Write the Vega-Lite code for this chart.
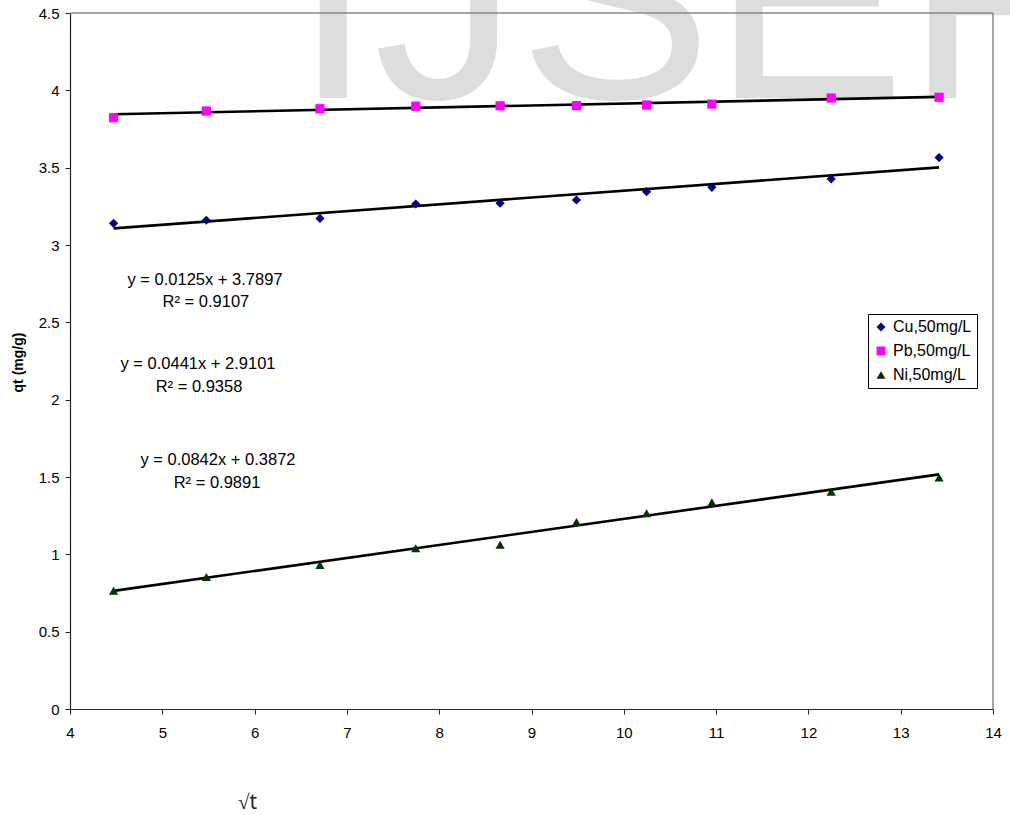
{
  "$schema": "https://vega.github.io/schema/vega-lite/v6.json",
  "autosize": {"type": "none"},
  "padding": {"left": 70, "top": 13, "right": 17, "bottom": 106},
  "width": 923,
  "height": 696,
  "background": "white",
  "config": {
    "view": {"stroke": null},
    "font": "Liberation Sans",
    "axis": {
      "grid": false,
      "domainColor": "#222",
      "domainWidth": 1.2,
      "tickColor": "#222",
      "tickSize": 5,
      "labelColor": "#000",
      "labelFont": "Liberation Sans",
      "labelFontSize": 15,
      "labelFlush": false,
      "labelOverlap": false
    },
    "legend": {
      "orient": "none",
      "legendX": 798,
      "legendY": 301,
      "strokeColor": "#000",
      "fillColor": "white",
      "padding": 5,
      "rowPadding": 8,
      "labelFont": "Liberation Sans",
      "labelFontSize": 16,
      "labelColor": "#000",
      "labelOffset": 4,
      "symbolSize": 80,
      "symbolStrokeWidth": 0,
      "labelLimit": 300
    }
  },
  "datasets": {
    "points": [
      {"series": "Cu,50mg/L", "x": 4.472, "y": 3.14},
      {"series": "Cu,50mg/L", "x": 5.477, "y": 3.16},
      {"series": "Cu,50mg/L", "x": 6.708, "y": 3.172},
      {"series": "Cu,50mg/L", "x": 7.746, "y": 3.265},
      {"series": "Cu,50mg/L", "x": 8.660, "y": 3.27},
      {"series": "Cu,50mg/L", "x": 9.487, "y": 3.291},
      {"series": "Cu,50mg/L", "x": 10.247, "y": 3.345},
      {"series": "Cu,50mg/L", "x": 10.954, "y": 3.373},
      {"series": "Cu,50mg/L", "x": 12.247, "y": 3.427},
      {"series": "Cu,50mg/L", "x": 13.416, "y": 3.565},
      {"series": "Pb,50mg/L", "x": 4.472, "y": 3.823},
      {"series": "Pb,50mg/L", "x": 5.477, "y": 3.866},
      {"series": "Pb,50mg/L", "x": 6.708, "y": 3.881},
      {"series": "Pb,50mg/L", "x": 7.746, "y": 3.897},
      {"series": "Pb,50mg/L", "x": 8.660, "y": 3.9},
      {"series": "Pb,50mg/L", "x": 9.487, "y": 3.901},
      {"series": "Pb,50mg/L", "x": 10.247, "y": 3.905},
      {"series": "Pb,50mg/L", "x": 10.954, "y": 3.911},
      {"series": "Pb,50mg/L", "x": 12.247, "y": 3.95},
      {"series": "Pb,50mg/L", "x": 13.416, "y": 3.955},
      {"series": "Ni,50mg/L", "x": 4.472, "y": 0.765},
      {"series": "Ni,50mg/L", "x": 5.477, "y": 0.853},
      {"series": "Ni,50mg/L", "x": 6.708, "y": 0.931},
      {"series": "Ni,50mg/L", "x": 7.746, "y": 1.039},
      {"series": "Ni,50mg/L", "x": 8.660, "y": 1.062},
      {"series": "Ni,50mg/L", "x": 9.487, "y": 1.209},
      {"series": "Ni,50mg/L", "x": 10.247, "y": 1.265},
      {"series": "Ni,50mg/L", "x": 10.954, "y": 1.336},
      {"series": "Ni,50mg/L", "x": 12.247, "y": 1.405},
      {"series": "Ni,50mg/L", "x": 13.416, "y": 1.496}
    ],
    "fits": [
      {"series": "Cu", "x": 4.472, "y": 3.1073},
      {"series": "Cu", "x": 13.416, "y": 3.5017},
      {"series": "Pb", "x": 4.472, "y": 3.8456},
      {"series": "Pb", "x": 13.416, "y": 3.9574},
      {"series": "Ni", "x": 4.472, "y": 0.7637},
      {"series": "Ni", "x": 13.416, "y": 1.5168}
    ],
    "labels": [
      {"text": "y = 0.0125x + 3.7897", "x": 5.463, "y": 2.774},
      {"text": "R² = 0.9107", "x": 5.473, "y": 2.631},
      {"text": "y = 0.0441x + 2.9101", "x": 5.387, "y": 2.231},
      {"text": "R² = 0.9358", "x": 5.398, "y": 2.082},
      {"text": "y = 0.0842x + 0.3872", "x": 5.603, "y": 1.61},
      {"text": "R² = 0.9891", "x": 5.593, "y": 1.461}
    ],
    "watermark": [{"text": "IJSER"}]
  },
  "layer": [
    {
      "data": {"name": "watermark"},
      "mark": {"type": "text", "font": "Liberation Sans", "fontSize": 290, "color": "#dddddd", "align": "left", "baseline": "alphabetic"},
      "encoding": {
        "text": {"field": "text"},
        "x": {"datum": 6.416, "type": "quantitative", "scale": {"domain": [4, 14], "nice": false, "zero": false}},
        "y": {"datum": 3.95, "type": "quantitative", "scale": {"domain": [0, 4.5], "nice": false, "zero": false}}
      }
    },
    {
      "data": {"values": [{}]},
      "mark": {"type": "rule", "color": "#888888", "strokeWidth": 1.5},
      "encoding": {"y": {"datum": 4.5, "type": "quantitative"}}
    },
    {
      "data": {"values": [{}]},
      "mark": {"type": "rule", "color": "#888888", "strokeWidth": 1.5},
      "encoding": {"x": {"datum": 14, "type": "quantitative"}}
    },
    {
      "data": {"name": "fits"},
      "mark": {"type": "line", "color": "#000000", "strokeWidth": 2.6},
      "encoding": {
        "x": {"field": "x", "type": "quantitative"},
        "y": {"field": "y", "type": "quantitative"},
        "detail": {"field": "series"}
      }
    },
    {
      "data": {"name": "points"},
      "mark": {"type": "point", "filled": true, "opacity": 1, "size": 85, "strokeWidth": 0},
      "encoding": {
        "x": {
          "field": "x", "type": "quantitative",
          "scale": {"domain": [4, 14], "nice": false, "zero": false},
          "axis": {
            "values": [4, 5, 6, 7, 8, 9, 10, 11, 12, 13, 14],
            "format": "d",
            "labelPadding": 11,
            "title": "√t",
            "titleFont": "Noto Sans",
            "titleFontSize": 21,
            "titleFontWeight": "normal",
            "titleColor": "#222",
            "titleX": 177,
            "titleY": 99,
            "titleAlign": "center",
            "titleBaseline": "alphabetic"
          }
        },
        "y": {
          "field": "y", "type": "quantitative",
          "scale": {"domain": [0, 4.5], "nice": false, "zero": false},
          "axis": {
            "values": [0, 0.5, 1, 1.5, 2, 2.5, 3, 3.5, 4, 4.5],
            "format": "~g",
            "labelPadding": 6,
            "title": "qt (mg/g)",
            "titleFont": "Liberation Sans",
            "titleFontSize": 14,
            "titleFontWeight": "bold",
            "titleColor": "#000",
            "titleAngle": 270,
            "titleX": -52,
            "titleY": 349,
            "titleAlign": "center",
            "titleBaseline": "middle"
          }
        },
        "color": {
          "field": "series", "type": "nominal",
          "scale": {"domain": ["Cu,50mg/L", "Pb,50mg/L", "Ni,50mg/L"], "range": ["#000080", "#ff00ff", "#003300"]},
          "legend": {"title": null}
        },
        "shape": {
          "field": "series", "type": "nominal",
          "scale": {"domain": ["Cu,50mg/L", "Pb,50mg/L", "Ni,50mg/L"], "range": ["diamond", "square", "triangle-up"]},
          "legend": {"title": null}
        }
      }
    },
    {
      "data": {"name": "labels"},
      "mark": {"type": "text", "font": "Liberation Sans", "fontSize": 16.5, "color": "#000", "align": "center", "baseline": "middle"},
      "encoding": {
        "text": {"field": "text"},
        "x": {"field": "x", "type": "quantitative"},
        "y": {"field": "y", "type": "quantitative"}
      }
    }
  ]
}
